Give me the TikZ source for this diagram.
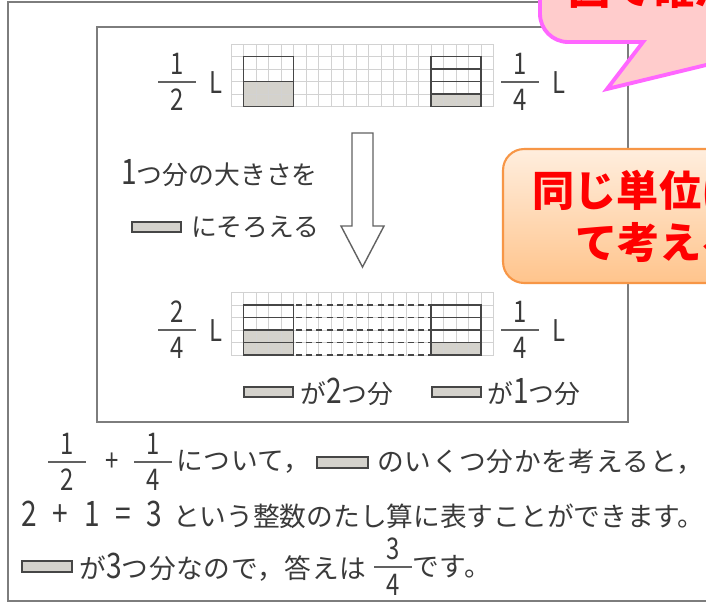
\documentclass[tikz,border=0pt]{standalone}
\usepackage{fontspec}
\setmainfont{Noto Sans CJK JP}
\newfontfamily\numfont[FakeStretch=0.8]{Noto Sans CJK JP}
\newfontfamily\spreadfont[LetterSpace=2.5]{Noto Sans CJK JP}
\usetikzlibrary{calc}
\definecolor{frameline}{RGB}{125,125,125}
\definecolor{gridline}{RGB}{210,210,210}
\definecolor{boxline}{RGB}{70,70,70}
\definecolor{unitfill}{RGB}{212,210,204}
\definecolor{inktext}{RGB}{58,58,58}
\definecolor{popred}{RGB}{255,0,0}
\definecolor{pinkfill}{RGB}{255,204,204}
\definecolor{pinkline}{RGB}{255,102,255}
\definecolor{orangetop}{RGB}{255,238,222}
\definecolor{orangebot}{RGB}{255,196,140}
\definecolor{orangeline}{RGB}{247,150,70}

\newcommand\nm[1]{{\numfont\fontsize{20pt}{20pt}\selectfont #1}}
% fraction: name, x, y of the bar, numerator, denominator
\newcommand\fracat[5]{%
  \node[digit] (#1n) at (#2,#3-18) {#4};
  \node[digit] (#1d) at (#2,#3+18) {#5};
  \draw[fracbar] (#2-19,#3) -- (#2+19,#3);}
% light grid of 21 x 5 cells, top left corner given
\newcommand\cupgrid[2]{%
  \foreach \i in {0,...,21} \draw[gridbox] (#1+\i*12.5,#2) -- (#1+\i*12.5,#2+62.5);
  \foreach \j in {0,...,5} \draw[gridbox] (#1,#2+\j*12.5) -- (#1+262.5,#2+\j*12.5);}

\tikzset{
  jp/.style={text=inktext, font=\fontsize{14.7pt}{14.7pt}\selectfont, inner sep=0pt, anchor=west},
  jpwide/.style={jp, font=\fontsize{15.2pt}{15.2pt}\selectfont},
  jpspread/.style={jp, font=\spreadfont\fontsize{15.2pt}{15.2pt}\selectfont},
  digit/.style={text=inktext, font=\numfont\fontsize{17pt}{17pt}\selectfont, inner sep=0pt},
  fracbar/.style={draw=inktext!80, line width=0.8pt},
  unitbar/.style={draw=boxline, fill=unitfill, line width=0.8pt},
  cupbox/.style={draw=boxline, line width=1.1pt},
  gridbox/.style={draw=gridline, line width=0.4pt},
}

\begin{document}
\begin{tikzpicture}[x=0.02cm, y=-0.02cm]
  \useasboundingbox (0,0) rectangle (706,603);
  \fill[white] (0,0) rectangle (706,603);
  \clip (0,0) rectangle (706,603);

  % frames
  \draw[frameline, line width=0.9pt] (730,2) -- (8,2) -- (8,601) -- (730,601);
  \draw[frameline, line width=0.9pt] (97,27) rectangle (628,422);

  % upper cups
  \fill[unitfill] (243.5,81.5) rectangle (293.5,106.5);
  \fill[unitfill] (431,94) rectangle (481,106.5);
  \cupgrid{231}{44}
  \draw[cupbox] (243.5,56.5) rectangle (293.5,106.5);
  \draw[cupbox] (243.5,81.5) -- (293.5,81.5);
  \draw[cupbox] (431,56.5) rectangle (481,106.5);
  \foreach \r in {69,81.5,94} \draw[cupbox] (431,\r) -- (481,\r);

  \fracat{half}{177}{82}{1}{2}
  \node[digit] (halfL) at (216,83) {L};
  \fracat{quarter}{520}{82}{1}{4}
  \node[digit] (quarterL) at (559,83) {L};

  % arrow and note
  \draw[boxline!85, line width=0.8pt, fill=white] (352,133) -- (373,133) -- (373,226) -- (384,226)
    -- (362.5,267) -- (341,226) -- (352,226) -- cycle;
  \node[jp] (unitsize) at (121,173) {\nm{1}つ分の大きさを};
  \draw[unitbar] (132,222) rectangle (181,232);
  \node[jp] (align) at (191,227) {にそろえる};

  % lower cups
  \fill[unitfill] (243.5,330) rectangle (293.5,355);
  \fill[unitfill] (431,342.5) rectangle (481,355);
  \cupgrid{231}{292.5}
  \draw[cupbox] (243.5,305) rectangle (293.5,355);
  \draw[cupbox] (431,305) rectangle (481,355);
  \foreach \r in {317.5,330,342.5} {
    \draw[cupbox] (243.5,\r) -- (293.5,\r);
    \draw[cupbox] (431,\r) -- (481,\r);
  }
  \foreach \r in {305,317.5,330,342.5,355}
    \draw[cupbox, dash pattern=on 3.4pt off 2.4pt] (296,\r) -- (431,\r);

  \fracat{twoq}{177}{330}{2}{4}
  \node[digit] (twoqL) at (216,331) {L};
  \fracat{oneq}{520}{330}{1}{4}
  \node[digit] (oneqL) at (559,331) {L};

  \draw[unitbar] (244,387) rectangle (293,397);
  \node[jp] (twoparts) at (300,392) {が\nm{2}つ分};
  \draw[unitbar] (432,387) rectangle (481,397);
  \node[jp] (onepart) at (487,392) {が\nm{1}つ分};

  % explanation
  \fracat{sumA}{67}{462}{1}{2}
  \node[digit] (plus) at (112,462) {+};
  \fracat{sumB}{153}{462}{1}{4}
  \node[jpspread] (about) at (176,462) {について，};
  \draw[unitbar] (317,457) rectangle (368,468);
  \node[jpspread] (howmany) at (377,462) {のいくつ分かを考えると，};

  \node[jpwide] (wholesum) at (21,515) {\nm{2}\hspace{9pt}\nm{+}\hspace{9pt}\nm{1}\hspace{9pt}\nm{=}\hspace{9pt}\nm{3}\hspace{6pt}という整数のたし算に表すことができます。};

  \draw[unitbar] (22,561) rectangle (72,572);
  \node[jpspread] (threeparts) at (79,567) {が\nm{3}つ分なので，答えは};
  \fracat{answer}{393}{567}{3}{4}
  \node[jpspread] (desu) at (412,567) {です。};

  % callouts
  \draw[pinkline, line width=2.2pt, fill=pinkfill] (607,89) -- (643,42) [rounded corners=16] -- (540,42)
    -- (540,-80) -- (900,-80) -- (900,42) [sharp corners] -- (801,42) -- cycle;
  \node[text=popred, font=\bfseries\fontsize{24pt}{24pt}\selectfont, inner sep=0pt, anchor=west]
    (check) at (568,-12) {図で確かめよう};
  \node[draw=orangeline, line width=1.2pt, rounded corners=12, top color=orangetop, bottom color=orangebot,
    minimum width=6.24cm, minimum height=2.68cm, inner sep=0pt, align=center, text=popred,
    font=\bfseries\fontsize{24pt}{29.5pt}\selectfont] (hint) at (659,216) {同じ単位にし\\て考える};
\end{tikzpicture}
\end{document}
